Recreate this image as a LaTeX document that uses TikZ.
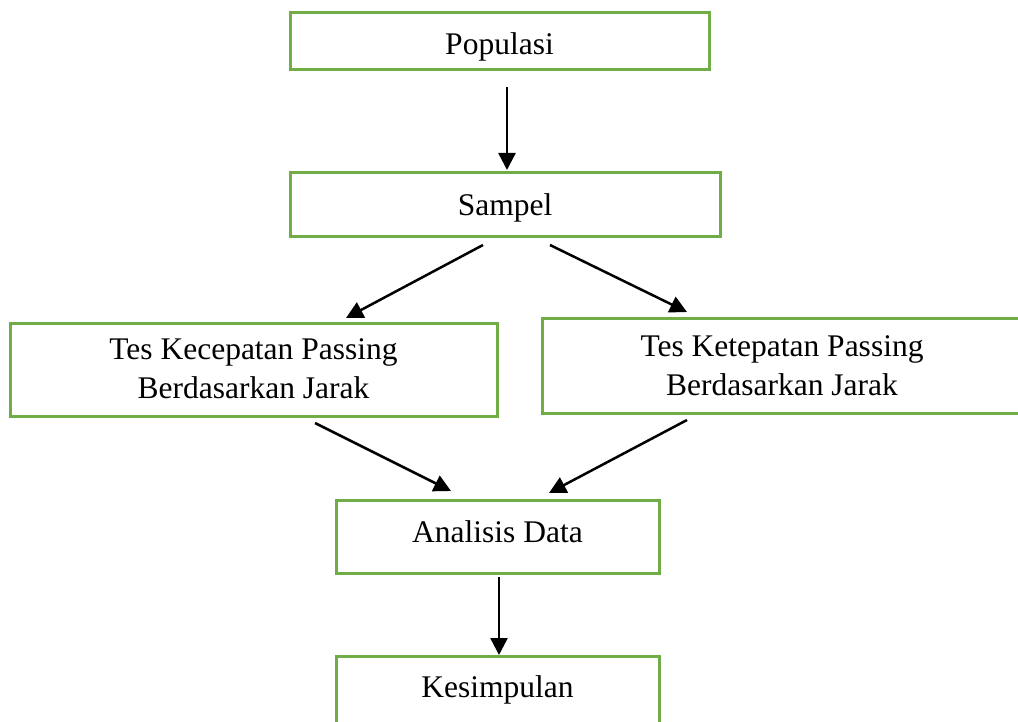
\documentclass[tikz,border=0pt]{standalone}
\usepackage{fontspec}
\setmainfont{Liberation Serif}
\usetikzlibrary{arrows.meta}
\definecolor{boxgreen}{HTML}{70AD47}
\newcommand{\twolines}[2]{\begin{tabular}{@{}c@{}}#1\\#2\end{tabular}}
\newcommand{\shifttext}[2]{\raisebox{#1}[\height][\depth]{#2}}
\begin{document}
\begin{tikzpicture}[x=1pt,y=-1pt,
  box/.style={draw=boxgreen,line width=3pt,inner sep=0pt,outer sep=0pt,
    align=center,font=\fontsize{31.5}{39}\selectfont},
  arr/.style={line width=2.5pt,-{Triangle[length=17pt,width=17pt]}}]
\useasboundingbox[fill=white] (0,0) rectangle (1018,722);
\node[box,minimum width=419pt,minimum height=57pt] (pop) at (499.5,41.5) {\shifttext{-5pt}{Populasi}};
\node[box,minimum width=430pt,minimum height=64pt] (samp) at (505,205) {\shifttext{-3pt}{Sampel}};
\node[box,minimum width=487pt,minimum height=93pt] (kec) at (253.5,369.5) {\shifttext{-2pt}{\twolines{Tes Kecepatan Passing}{Berdasarkan Jarak}}};
\node[box,minimum width=480pt,minimum height=95pt] (ket) at (782,365.5) {\shifttext{-2.5pt}{\twolines{Tes Ketepatan Passing}{Berdasarkan Jarak}}};
\node[box,minimum width=323pt,minimum height=73pt] (ana) at (497.5,536.5) {\shifttext{5pt}{Analisis Data}};
\node[box,minimum width=323pt,minimum height=74pt] (kes) at (497.5,693) {\shifttext{3pt}{Kesimpulan}};
\coordinate (a1s) at (507,87);  \coordinate (a1e) at (507,170);
\coordinate (a2s) at (483,245); \coordinate (a2e) at (346,318);
\coordinate (a3s) at (550,245); \coordinate (a3e) at (687,312);
\coordinate (a4s) at (315,423); \coordinate (a4e) at (451,491);
\coordinate (a5s) at (687,420); \coordinate (a5e) at (549,493);
\coordinate (a6s) at (499,577); \coordinate (a6e) at (499,655);
\draw[arr] (a1s) -- (a1e);
\draw[arr] (a2s) -- (a2e);
\draw[arr] (a3s) -- (a3e);
\draw[arr] (a4s) -- (a4e);
\draw[arr] (a5s) -- (a5e);
\draw[arr] (a6s) -- (a6e);
\end{tikzpicture}
\end{document}
